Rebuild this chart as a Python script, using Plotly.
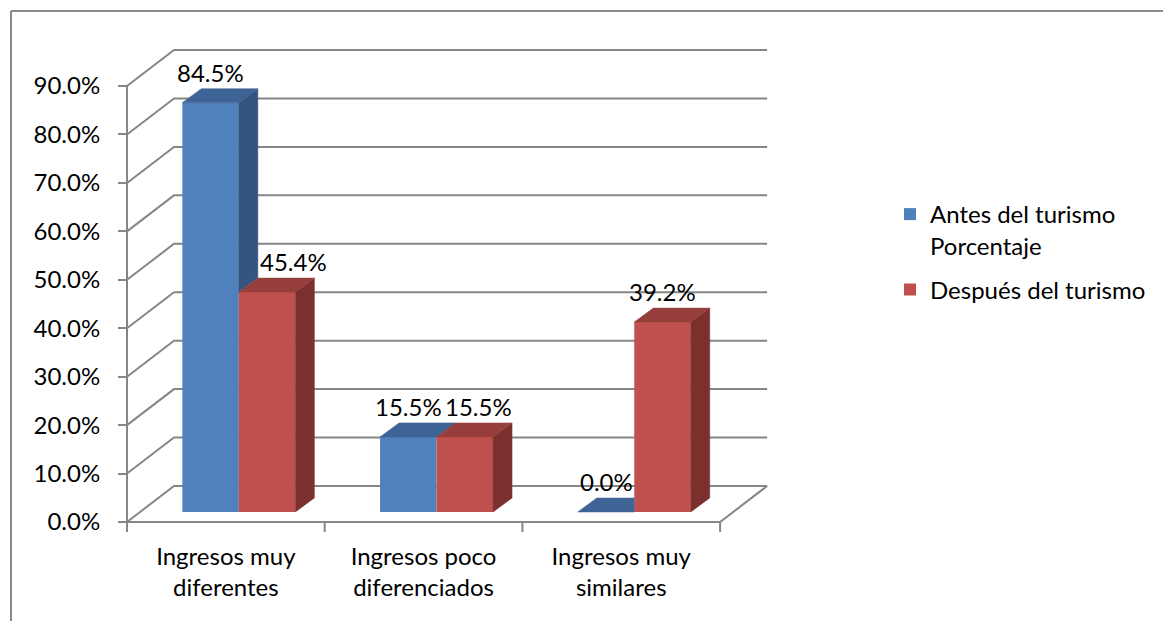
import plotly.graph_objects as go

# ---------------- data ----------------
categories = ["Ingresos muy<br>diferentes", "Ingresos poco<br>diferenciados", "Ingresos muy<br>similares"]
antes = [84.5, 15.5, 0.0]
despues = [45.4, 15.5, 39.2]
series_names = ["Antes del turismo<br>Porcentaje", "Después del turismo"]
y_ticks = [0, 10, 20, 30, 40, 50, 60, 70, 80, 90]
y_tick_labels = [f"{v:.1f}%" for v in y_ticks]

# ---------------- styling / geometry ----------------
FONT = "Lato"
FS = 24
GRID = "#868686"
BLUE, BLUE_TOP, BLUE_SIDE = "#4F81BD", "#3E6395", "#34557F"
RED, RED_TOP, RED_SIDE = "#C0504D", "#963E3B", "#7B302E"

OFF = 8                      # page body margin of the html page
W, H = 1171 - OFF, 621 - OFF
ML, MR, MT, MB = 107, 396, 30, 85
PW, PH = W - ML - MR, H - MT - MB
PX_CAT = 197.7      # pixels per category
PX_PCT = 4.844      # pixels per percent
AX_X0, AX_Y0 = 127 - OFF, 522 - OFF   # front-left corner of the floor (figure px)

x_range = [-0.5 - (AX_X0 - ML) / PX_CAT, -0.5 + (W - MR - AX_X0) / PX_CAT]
y_range = [-(H - MB - AX_Y0) / PX_PCT, (AX_Y0 - MT) / PX_PCT]


def dxp(px):
    return px / PX_CAT


def dyp(px):
    return px / PX_PCT


def paper_x(px_ref):
    return (px_ref - OFF - ML) / PW


def paper_y(py_ref):
    return (H - MB - (py_ref - OFF)) / PH


WALL_DX, WALL_DY = dxp(47), dyp(36)
FRONT_DX, FRONT_DY = dxp(13), dyp(10)
BAR_DX, BAR_DY = dxp(19), dyp(14)
BW = dxp(56.5)
label_xshift = [[0, 0, 0], [26, 14, 0]]   # per series, per category (pixels)

n = len(categories)
x_left, x_right = -0.5, n - 0.5

fig = go.Figure()

# ---------------- walls / gridlines (below traces) ----------------
shapes = []
for t in y_ticks:
    shapes.append(dict(type="path", layer="below", xref="x", yref="y",
                       path=f"M {x_left},{t} L {x_left + WALL_DX},{t + WALL_DY} L {x_right + WALL_DX},{t + WALL_DY}",
                       line=dict(color=GRID, width=2)))
shapes.append(dict(type="path", layer="below", xref="x", yref="y",
                   path=f"M {x_left},0 L {x_right},0 L {x_right + WALL_DX},{WALL_DY}",
                   line=dict(color=GRID, width=2)))
shapes.append(dict(type="path", layer="below", xref="x", yref="y",
                   path=f"M {x_left},0 L {x_left},{y_ticks[-1]}",
                   line=dict(color=GRID, width=2)))
for k in range(n + 1):
    b = x_left + k
    shapes.append(dict(type="path", layer="below", xref="x", yref="y",
                       path=f"M {b},0 L {b},{-dyp(10)}",
                       line=dict(color=GRID, width=2)))
# outer chart border (left and top)
shapes.append(dict(type="line", xref="paper", yref="paper",
                   x0=paper_x(11), y0=paper_y(11), x1=paper_x(11), y1=paper_y(630),
                   line=dict(color="#8A8A8A", width=2)))
shapes.append(dict(type="line", xref="paper", yref="paper",
                   x0=paper_x(11), y0=paper_y(11), x1=paper_x(1180), y1=paper_y(11),
                   line=dict(color="#8A8A8A", width=2)))


def face(xs, ys, color):
    fig.add_trace(go.Scatter(x=xs + [xs[0]], y=ys + [ys[0]], mode="lines", fill="toself",
                             fillcolor=color, line=dict(color=color, width=0.5),
                             hoverinfo="skip", showlegend=False))


series = [antes, despues]
fronts = [BLUE, RED]
tops = [BLUE_TOP, RED_TOP]
sides = [BLUE_SIDE, RED_SIDE]
annotations = []

for s, vals in enumerate(series):
    centers, bases = [], []
    for i, v in enumerate(vals):
        xl = i + (s - 1) * BW + FRONT_DX
        xr = xl + BW
        y0 = FRONT_DY
        y1 = v + FRONT_DY
        centers.append((xl + xr) / 2)
        bases.append(y0)
        other = despues[i] if s == 0 else None
        # side face (blue side is partly hidden by the red bar next to it)
        if s == 0:
            if other < v:
                yb = other + FRONT_DY
                face([xr, xr, xr + BAR_DX, xr + BAR_DX], [yb, y1, y1 + BAR_DY, yb + BAR_DY], sides[s])
        else:
            face([xr, xr, xr + BAR_DX, xr + BAR_DX], [y0, y1, y1 + BAR_DY, y0 + BAR_DY], sides[s])
        # top face
        if s == 0 and other > v:
            face([xl, xr, xr, xl + BAR_DX], [y1, y1, y1 + BAR_DY, y1 + BAR_DY], tops[s])
        else:
            face([xl, xr, xr + BAR_DX, xl + BAR_DX], [y1, y1, y1 + BAR_DY, y1 + BAR_DY], tops[s])
        annotations.append(dict(x=(xl + xr) / 2, y=y1 + BAR_DY, xref="x", yref="y",
                                text=f"{v:.1f}%", showarrow=False, yanchor="bottom",
                                xshift=label_xshift[s][i], yshift=0,
                                font=dict(family=FONT, size=FS, color="#000000")))
    fig.add_trace(go.Bar(x=centers, y=vals, base=bases, width=BW, name=series_names[s],
                         legendgroup=f"g{s}",
                         marker=dict(color=fronts[s], line=dict(width=0)),
                         hoverinfo="skip"))

fig.update_layout(
    width=W, height=H,
    margin=dict(l=ML, r=MR, t=MT, b=MB, autoexpand=False),
    paper_bgcolor="white", plot_bgcolor="white",
    barmode="overlay",
    font=dict(family=FONT, size=FS, color="#000000"),
    shapes=shapes,
    annotations=annotations,
    showlegend=True,
    legend=dict(x=paper_x(890), y=paper_y(192), xanchor="left", yanchor="top",
                font=dict(family=FONT, size=FS, color="#000000"),
                valign="top", bgcolor="rgba(0,0,0,0)", itemwidth=30,
                tracegroupgap=10),
    xaxis=dict(range=x_range, showgrid=False, zeroline=False, showline=False,
               tickmode="array", tickvals=list(range(n)), ticktext=categories,
               ticks="", anchor="free", position=(H - MB - AX_Y0) / PH,
               ticklabelstandoff=18, fixedrange=True),
    yaxis=dict(range=y_range, showgrid=False, zeroline=False, showline=False,
               tickmode="array", tickvals=y_ticks, ticktext=y_tick_labels,
               ticks="outside", ticklen=9, tickwidth=2, tickcolor=GRID,
               anchor="free", position=(AX_X0 - ML) / PW,
               ticklabelstandoff=13, fixedrange=True),
)

fig.write_html("out.html")
